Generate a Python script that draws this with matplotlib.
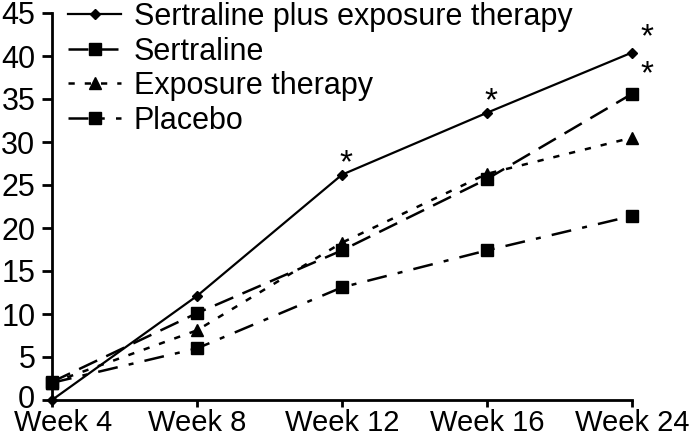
import matplotlib.pyplot as plt
from matplotlib.transforms import ScaledTranslation

plt.rcParams['font.family'] = ['Liberation Sans', 'DejaVu Sans']

weeks = ['Week 4', 'Week 8', 'Week 12', 'Week 16', 'Week 24']
sert_exp = [0, 12.1, 26.2, 33.4, 40.4]
sertraline = [2.1, 10.1, 17.4, 25.7, 35.6]
exposure = [2.0, 8.1, 18.3, 26.3, 30.5]
placebo = [2.0, 6.0, 13.1, 17.4, 21.4]

x = list(range(len(weeks)))

fig = plt.figure(figsize=(6.97, 4.42), dpi=100)
ax = fig.add_axes([52/697, 1 - 400/442, 580/697, 387/442])

ax.plot(x, sert_exp, color='black', lw=1.6, marker='D', ms=5,
        label='Sertraline plus exposure therapy', clip_on=False)
ax.plot(x, sertraline, color='black', lw=1.8, marker='s', ms=9,
        dashes=(8, 4), label='Sertraline', clip_on=False)
ax.plot(x, exposure, color='black', lw=1.8, marker='^', ms=8.5,
        dashes=(2.5, 4), label='Exposure therapy', clip_on=False)
ax.plot(x, placebo, color='black', lw=1.8, marker='s', ms=9,
        dashes=(8, 4.5, 2, 4.5), label='Placebo', clip_on=False)

# significance stars
for i, v in [(2, sert_exp[2]), (3, sert_exp[3])]:
    ax.text(i + 0.03, v + 1.3, '*', fontsize=24, ha='center', va='center')
ax.text(4.1, sert_exp[4] + 1.7, '*', fontsize=24, ha='center', va='center')
ax.text(4.1, sertraline[4] + 2.2, '*', fontsize=24, ha='center', va='center')

ax.set_xlim(0, 4)
ax.set_ylim(0, 45)
ax.set_yticks(range(0, 46, 5))
ax.set_xticks(x)
ax.set_xticklabels(weeks)
ax.tick_params(axis='x', labelsize=21, width=2, length=5, direction='out', pad=1.5)
ax.tick_params(axis='y', labelsize=22, width=2, length=7, direction='out', pad=5)
# first x label nudged right so it stays inside the figure, "0" nudged up
lbl = ax.get_xticklabels()[0]
lbl.set_transform(lbl.get_transform() + ScaledTranslation(11/100, 0, fig.dpi_scale_trans))
lbl0 = ax.get_yticklabels()[0]
lbl0.set_transform(lbl0.get_transform() + ScaledTranslation(0, 3/100, fig.dpi_scale_trans))
for s in ['top', 'right']:
    ax.spines[s].set_visible(False)
for s in ['left', 'bottom']:
    ax.spines[s].set_linewidth(2)

ax.legend(loc='upper left', bbox_to_anchor=(68/697, 1 - 2/442),
          bbox_transform=fig.transFigure, frameon=False,
          fontsize=22, handlelength=1.75, labelspacing=0.15,
          handletextpad=0.4, borderpad=0, borderaxespad=0)

fig.savefig('out.png', dpi=100)
